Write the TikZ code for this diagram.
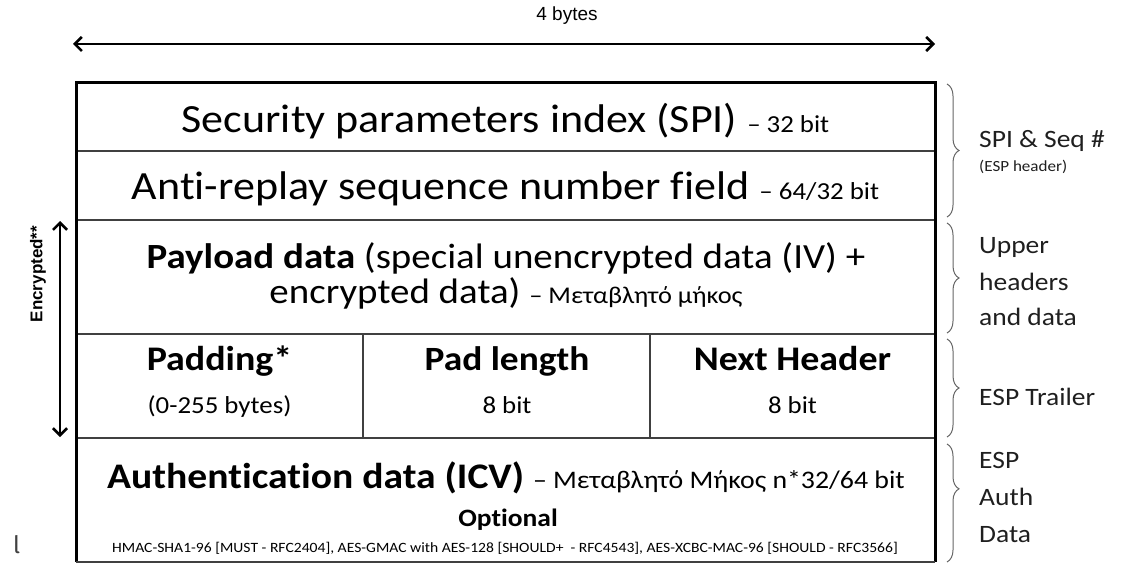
\documentclass[tikz,border=0pt]{standalone}
\usepackage{fontspec}
\setmainfont{Carlito}[FakeStretch=1.1,Ligatures=NoCommon]
\newfontfamily\arialfont{Liberation Sans}
\newfontfamily\firafont{Fira Sans}
\usetikzlibrary{arrows.meta,decorations.pathreplacing}
\newcommand{\fsz}[1]{\fontsize{#1}{#1}\selectfont}
\begin{document}
\begin{tikzpicture}[x=1pt,y=-1pt,
  outer/.style={line width=3pt,black},
  inner/.style={line width=1.4pt,black!75},
  txt/.style={anchor=base,inner sep=0pt,text=black},
  lbl/.style={anchor=base west,inner sep=0pt,text=black!88,font=\fsz{25}},
  bracestyle/.style={decorate,decoration={brace,amplitude=12pt},line width=1pt,black!60},
  dimarrow/.style={line width=2.6pt,{Straight Barb[length=7pt,width=14pt]}-{Straight Barb[length=7pt,width=14pt]}}
]
\useasboundingbox (0,0) rectangle (1129,564);
% box corners
\coordinate (tl) at (76,83);
\coordinate (tr) at (935,83);
\coordinate (bl) at (76,562);
\coordinate (br) at (935,562);
\coordinate (r1l) at (76,151); \coordinate (r1r) at (935,151);
\coordinate (r2l) at (76,220); \coordinate (r2r) at (935,220);
\coordinate (r3l) at (76,334); \coordinate (r3r) at (935,334);
\coordinate (r4l) at (76,438); \coordinate (r4r) at (935,438);
\coordinate (c1t) at (363,334); \coordinate (c1b) at (363,438);
\coordinate (c2t) at (650,334); \coordinate (c2b) at (650,438);
\draw[inner] (r1l) -- (r1r);
\draw[inner] (r2l) -- (r2r);
\draw[inner] (r3l) -- (r3r);
\draw[inner] (r4l) -- (r4r);
\draw[inner] (c1t) -- (c1b);
\draw[inner] (c2t) -- (c2b);
\draw[outer] (bl) -- (tl) -- (tr) -- (br);
\draw[inner] (bl) -- (br);

% top arrow
\node[txt,font=\arialfont\fsz{19}] (bytes) at (567,21) {4 bytes};
\coordinate (ta) at (73,44);
\coordinate (tb) at (935,44);
\draw[dimarrow] (ta) -- (tb);

% left arrow
\coordinate (la) at (60,221);
\coordinate (lb) at (60,437);
\draw[dimarrow] (la) -- (lb);
\node[inner sep=0pt,rotate=90,font=\arialfont\bfseries\fsz{17}] (enc) at (38,274) {Encrypted**};

% row texts
\node[txt] (spi) at (505.5,133) {\fsz{40}Security parameters index (SPI) {\fsz{24.4}– 32 bit}};
\node[txt] (seq) at (505.5,200) {\fsz{40}Anti-replay sequence number field {\fsz{24.4}– 64/32 bit}};
\node[txt] (pay1) at (506,268) {\fsz{35.4}\textbf{Payload data} (special unencrypted data (IV) +};
\node[txt] (pay2) at (506,303) {\fsz{35.4}encrypted data) {\fsz{24}– Μεταβλητό μήκος}};
\node[txt] (pad1) at (219.5,370) {\fsz{34.5}\textbf{Padding*}};
\node[txt] (pad2) at (219.5,413) {\fsz{24.4}(0-255 bytes)};
\node[txt] (pl1) at (507,370) {\fsz{34}\textbf{Pad length}};
\node[txt] (pl2) at (507,413) {\fsz{24.4}8 bit};
\node[txt] (nh1) at (792.5,370) {\fsz{34.5}\textbf{Next Header}};
\node[txt] (nh2) at (792.5,413) {\fsz{24.4}8 bit};
\node[txt] (auth) at (506,488) {\fsz{36}\textbf{Authentication data (ICV)} {\fsz{25.3}– Μεταβλητό Μήκος n*32/64 bit}};
\node[txt] (opt) at (508,526) {\fsz{25}\textbf{Optional}};
\node[txt] (alg) at (505,552) {\fsz{14.2}HMAC-SHA1-96 [MUST - RFC2404], AES-GMAC with AES-128 [SHOULD+ \ - RFC4543], AES-XCBC-MAC-96 [SHOULD - RFC3566]};

% braces
\coordinate (b1t) at (947,84); \coordinate (b1b) at (947,217);
\coordinate (b2t) at (947,223); \coordinate (b2b) at (947,333);
\coordinate (b3t) at (947,339); \coordinate (b3b) at (947,437);
\coordinate (b4t) at (947,444); \coordinate (b4b) at (947,562);
\draw[bracestyle] (b1t) -- (b1b);
\draw[bracestyle] (b2t) -- (b2b);
\draw[bracestyle] (b3t) -- (b3b);
\draw[bracestyle,decoration={aspect=0.38}] (b4t) -- (b4b);

% right labels
\node[lbl] (l1) at (979,148) {SPI \& Seq \#};
\node[lbl,font=\fsz{15.5}] (l1b) at (979,172) {(ESP header)};
\node[lbl] (l2a) at (979,253) {Upper};
\node[lbl] (l2b) at (979,290) {headers};
\node[lbl] (l2c) at (979,325) {and data};
\node[lbl] (l3) at (979,405) {ESP Trailer};
\node[lbl] (l4a) at (979,468) {ESP};
\node[lbl] (l4b) at (979,505) {Auth};
\node[lbl] (l4c) at (979,542) {Data};

% stray glyph
\node[anchor=base west,inner sep=0pt,text=black!75,font=\firafont\fsz{24}] (stray) at (13,553) {l};
\end{tikzpicture}
\end{document}
